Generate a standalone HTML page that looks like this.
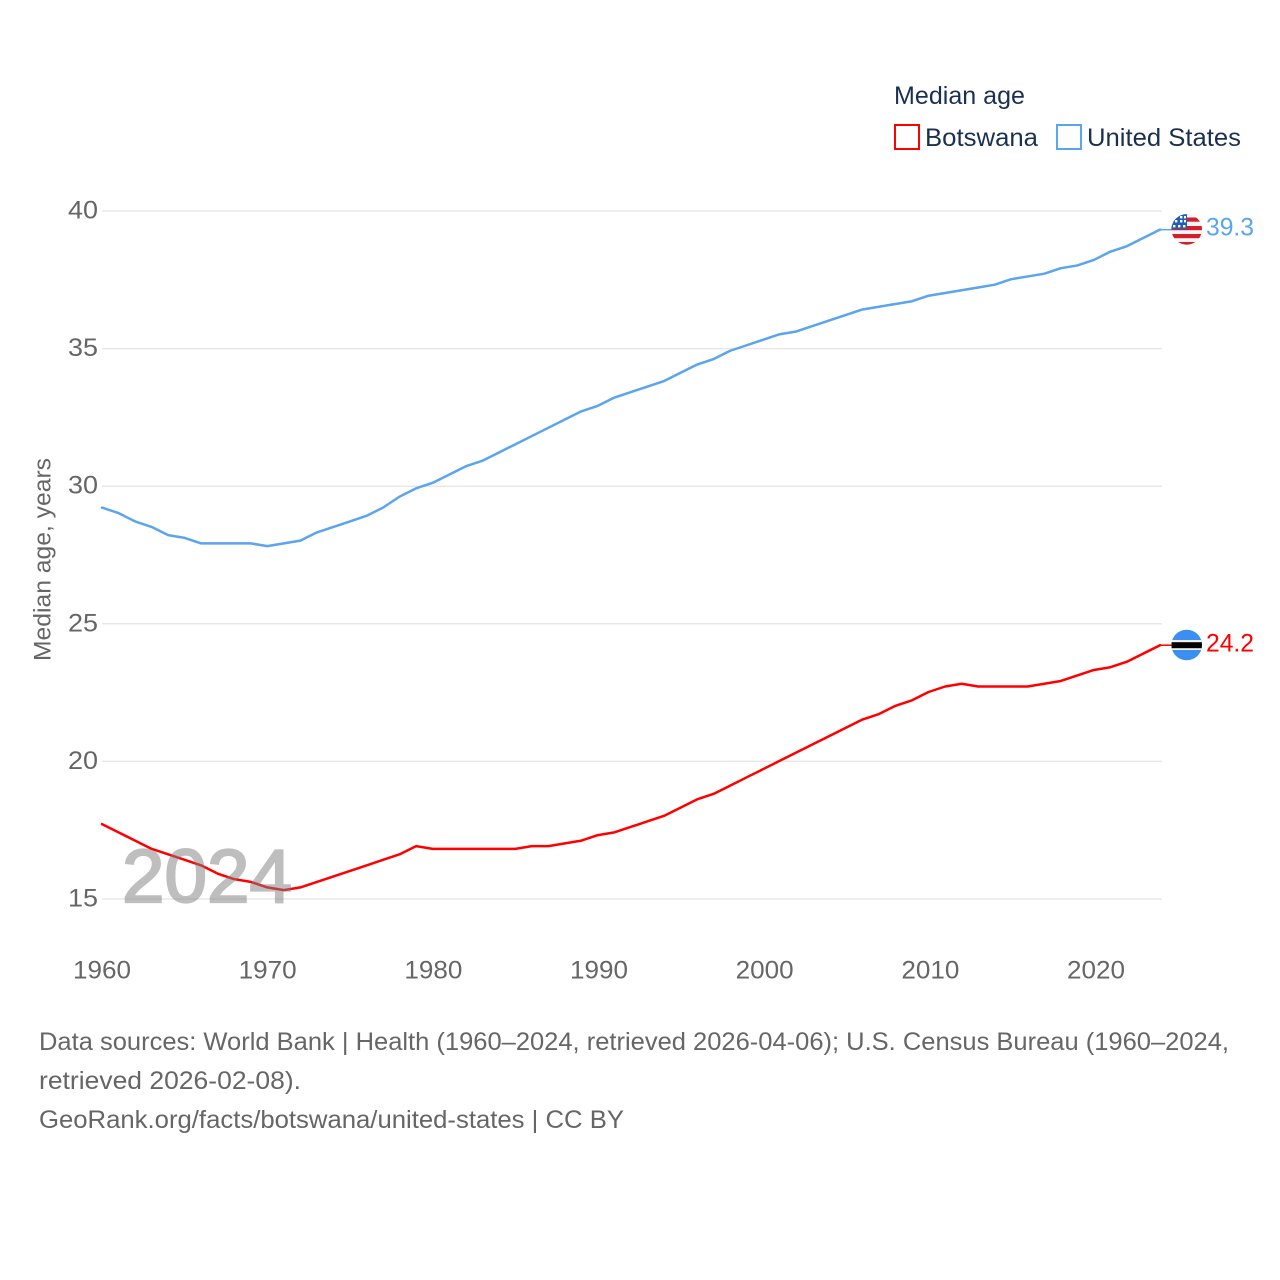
<!DOCTYPE html>
<html lang="en">
<head>
<meta charset="utf-8">
<title>Median age: Botswana and United States</title>
<style>
html,body{margin:0;padding:0;background:#fff;width:1280px;height:1280px;overflow:hidden}
svg{display:block}
text{font-family:"Liberation Sans",sans-serif}
</style>
</head>
<body>
<svg id="chart" xmlns="http://www.w3.org/2000/svg" width="1280" height="1280" viewBox="0 0 1280 1280">
  <defs>
    <clipPath id="us-clip"><circle cx="1186.7" cy="229.4" r="15.3"></circle></clipPath>
    <clipPath id="bw-clip"><circle cx="1186.7" cy="645" r="15.3"></circle></clipPath>
  </defs>
  <g id="grid"></g>
  <g id="y-ticks"></g>
  <g id="x-ticks"></g>
  <text transform="translate(50.5,661) rotate(-90)" font-size="24" fill="#666666" textLength="203" lengthAdjust="spacingAndGlyphs">Median age, years</text>
  <g id="series"></g>
  <text x="122" y="902" font-size="75" font-weight="400" fill="#7f7f7f" stroke="#7f7f7f" stroke-width="2.2" opacity="0.5" textLength="170" lengthAdjust="spacingAndGlyphs">2024</text>

  <g>
    <text x="894" y="104" font-size="25" fill="#1a3050" textLength="131" lengthAdjust="spacingAndGlyphs">Median age</text>
    <g>
      <rect x="895" y="125" width="24" height="24" fill="#fff" stroke="#ff0000" stroke-width="2"></rect>
      <text x="925" y="146" font-size="25" fill="#1a3050" textLength="113" lengthAdjust="spacingAndGlyphs">Botswana</text>
    </g>
    <g>
      <rect x="1057" y="125" width="24" height="24" fill="#fff" stroke="#5ba4ee" stroke-width="2"></rect>
      <text x="1087" y="146" font-size="25" fill="#1a3050" textLength="154" lengthAdjust="spacingAndGlyphs">United States</text>
    </g>
  </g>

  <g clip-path="url(#us-clip)">
    <rect x="1171" y="213" width="32" height="33" fill="#f4f4f4"></rect>
    <rect x="1171" y="217.5" width="32" height="4.2" fill="#d0202e"></rect>
    <rect x="1171" y="226" width="32" height="4.2" fill="#d0202e"></rect>
    <rect x="1171" y="234" width="32" height="4.2" fill="#d0202e"></rect>
    <rect x="1171" y="242" width="32" height="4.2" fill="#d0202e"></rect>
    <rect x="1171" y="213" width="16" height="16" fill="#1f5fb8"></rect>
    <rect x="1180" y="216" width="2.4" height="2.4" fill="#fff"></rect>
    <rect x="1184" y="216" width="2" height="2.4" fill="#fff"></rect>
    <rect x="1175" y="220" width="2.4" height="2.4" fill="#fff"></rect>
    <rect x="1180" y="220" width="2.4" height="2.4" fill="#fff"></rect>
    <rect x="1184" y="220" width="2" height="2.4" fill="#fff"></rect>
    <rect x="1173" y="225" width="2.4" height="2.4" fill="#fff"></rect>
    <rect x="1178" y="225" width="2.4" height="2.4" fill="#fff"></rect>
    <rect x="1183" y="225" width="2.4" height="2.4" fill="#fff"></rect>
  </g>
  <g clip-path="url(#bw-clip)">
    <rect x="1171" y="629" width="32" height="32" fill="#3b8ff0"></rect>
    <rect x="1171" y="640" width="32" height="10" fill="#f0f0f0"></rect>
    <rect x="1171" y="642.2" width="32" height="6" fill="#000000"></rect>
  </g>
  <text id="label-us" x="1206" y="235.5" font-size="25" fill="#5ba4ee" textLength="48" lengthAdjust="spacingAndGlyphs"></text>
  <text id="label-bw" x="1206" y="651.5" font-size="25" fill="#ff0000" textLength="48" lengthAdjust="spacingAndGlyphs"></text>

  <g font-size="25" fill="#666666">
    <text x="39" y="1050" textLength="1190" lengthAdjust="spacingAndGlyphs">Data sources: World Bank | Health (1960–2024, retrieved 2026-04-06); U.S. Census Bureau (1960–2024,</text>
    <text x="39" y="1089" textLength="262" lengthAdjust="spacingAndGlyphs">retrieved 2026-02-08).</text>
    <text x="39" y="1128" textLength="585" lengthAdjust="spacingAndGlyphs">GeoRank.org/facts/botswana/united-states | CC BY</text>
  </g>
</svg>
<script>
const years = [1960,1961,1962,1963,1964,1965,1966,1967,1968,1969,1970,1971,1972,1973,1974,1975,1976,1977,1978,1979,1980,1981,1982,1983,1984,1985,1986,1987,1988,1989,1990,1991,1992,1993,1994,1995,1996,1997,1998,1999,2000,2001,2002,2003,2004,2005,2006,2007,2008,2009,2010,2011,2012,2013,2014,2015,2016,2017,2018,2019,2020,2021,2022,2023,2024];
const unitedStates = [29.2,29.0,28.7,28.5,28.2,28.1,27.9,27.9,27.9,27.9,27.8,27.9,28.0,28.3,28.5,28.7,28.9,29.2,29.6,29.9,30.1,30.4,30.7,30.9,31.2,31.5,31.8,32.1,32.4,32.7,32.9,33.2,33.4,33.6,33.8,34.1,34.4,34.6,34.9,35.1,35.3,35.5,35.6,35.8,36.0,36.2,36.4,36.5,36.6,36.7,36.9,37.0,37.1,37.2,37.3,37.5,37.6,37.7,37.9,38.0,38.2,38.5,38.7,39.0,39.3];
const botswana = [17.7,17.4,17.1,16.8,16.6,16.4,16.2,15.9,15.7,15.6,15.4,15.3,15.4,15.6,15.8,16.0,16.2,16.4,16.6,16.9,16.8,16.8,16.8,16.8,16.8,16.8,16.9,16.9,17.0,17.1,17.3,17.4,17.6,17.8,18.0,18.3,18.6,18.8,19.1,19.4,19.7,20.0,20.3,20.6,20.9,21.2,21.5,21.7,22.0,22.2,22.5,22.7,22.8,22.7,22.7,22.7,22.7,22.8,22.9,23.1,23.3,23.4,23.6,23.9,24.2];
const yTickValues = [15,20,25,30,35,40];
const xTickValues = [1960,1970,1980,1990,2000,2010,2020];

const NS = 'http://www.w3.org/2000/svg';
function xScale(year) { return 102 + (year - 1960) * (1096 - 102) / 60; }
function dataX(year) { return 102 + (year - 1960) * 1058 / 64; }
function yScale(v) { return 899 - (v - 15) * (899 - 211) / 25; }
function dataY(v) { return yScale(v) - 0.6; }

function make(tag, attrs, parent) {
  const el = document.createElementNS(NS, tag);
  for (const k in attrs) el.setAttribute(k, attrs[k]);
  parent.appendChild(el);
  return el;
}

const gridG = document.getElementById('grid');
const yG = document.getElementById('y-ticks');
yTickValues.forEach(function (v) {
  const line = make('line', {x1: 102, x2: 1162, y1: yScale(v), y2: yScale(v), stroke: '#e8e8e8', 'stroke-width': 1.5}, gridG);
  
  
  const t = make('text', {x: 98, y: yScale(v) + 7.5, 'text-anchor': 'end', 'font-size': 25, fill: '#666666', textLength: 30, lengthAdjust: 'spacingAndGlyphs'}, yG);
  
  
  t.textContent = v;
});

const xG = document.getElementById('x-ticks');
xTickValues.forEach(function (y) {
  const t = make('text', {x: xScale(y), y: 978.5, 'text-anchor': 'middle', 'font-size': 25, fill: '#666666', textLength: 58, lengthAdjust: 'spacingAndGlyphs'}, xG);
  
  
  t.textContent = y;
});

function drawSeries(values, color, name) {
  const g = document.getElementById('series');
  const pts = values.map(function (v, i) { return dataX(years[i]).toFixed(2) + ',' + dataY(v).toFixed(2); });
  const line = make('polyline', {points: pts.join(' '), fill: 'none', stroke: color, 'stroke-width': 2.5, 'stroke-linejoin': 'round', 'stroke-linecap': 'round'}, g);
  
  
  const lastX = dataX(years[years.length - 1]);
  const lastY = dataY(values[values.length - 1]);
  const conn = make('line', {x1: lastX, x2: lastX + 12, y1: lastY, y2: lastY, stroke: color, 'stroke-width': 1.5}, g);
  
  
}
drawSeries(unitedStates, '#5ba4ee', 'line-united-states');
drawSeries(botswana, '#ff0000', 'line-botswana');

document.getElementById('label-us').textContent = unitedStates[unitedStates.length - 1].toFixed(1);
document.getElementById('label-bw').textContent = botswana[botswana.length - 1].toFixed(1);
</script>
</body>
</html>
